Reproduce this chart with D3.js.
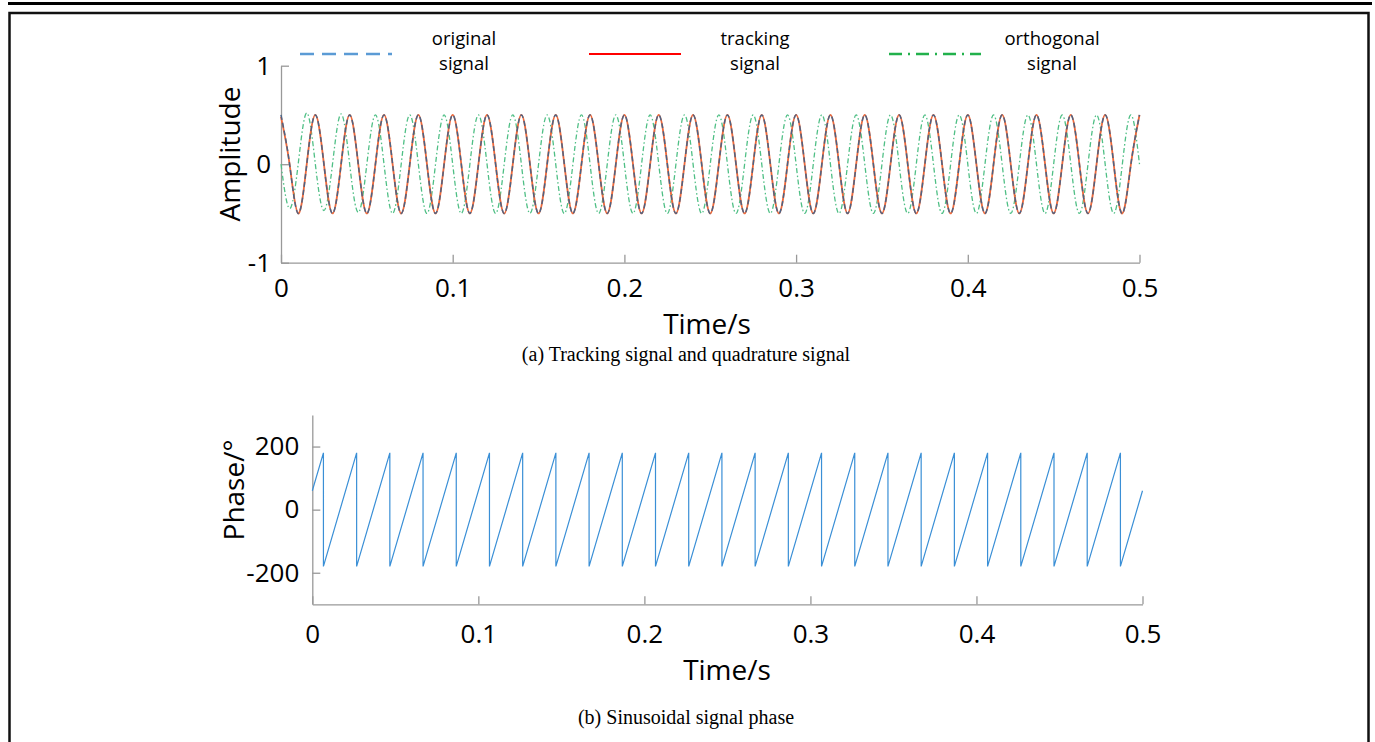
<!DOCTYPE html>
<html>
<head>
<meta charset="utf-8">
<script src="https://cdn.jsdelivr.net/npm/d3@7"></script>
<style>
    body { margin: 0; background: #fff; }
    svg { display: block; }
    .tick text { font-family: "Open Sans", sans-serif; font-size: 26px; fill: #000; }
    .axis path, .axis line { stroke: #999; stroke-width: 1.3; }
    .title { font-family: "Open Sans", sans-serif; font-size: 28px; fill: #000; }
    .legend-text { font-family: "Open Sans", sans-serif; font-size: 18.5px; fill: #000; }
    .caption { font-family: "Liberation Serif", "Times New Roman", serif; font-size: 20px; fill: #000; }
</style>
</head>
<body>
<div id="chart"></div>
<script>
// axis ticks
const timeTicks = [0, 0.1, 0.2, 0.3, 0.4, 0.5];
const ampTicks = [-1, 0, 1];
const phaseTicks = [-200, 0, 200];

// samples every quarter period (50 Hz signal)
const sampleTimes = [
    0, 0.005, 0.01, 0.015, 0.02, 0.025, 0.03, 0.035, 0.04, 0.045,
    0.05, 0.055, 0.06, 0.065, 0.07, 0.075, 0.08, 0.085, 0.09, 0.095,
    0.1, 0.105, 0.11, 0.115, 0.12, 0.125, 0.13, 0.135, 0.14, 0.145,
    0.15, 0.155, 0.16, 0.165, 0.17, 0.175, 0.18, 0.185, 0.19, 0.195,
    0.2, 0.205, 0.21, 0.215, 0.22, 0.225, 0.23, 0.235, 0.24, 0.245,
    0.25, 0.255, 0.26, 0.265, 0.27, 0.275, 0.28, 0.285, 0.29, 0.295,
    0.3, 0.305, 0.31, 0.315, 0.32, 0.325, 0.33, 0.335, 0.34, 0.345,
    0.35, 0.355, 0.36, 0.365, 0.37, 0.375, 0.38, 0.385, 0.39, 0.395,
    0.4, 0.405, 0.41, 0.415, 0.42, 0.425, 0.43, 0.435, 0.44, 0.445,
    0.45, 0.455, 0.46, 0.465, 0.47, 0.475, 0.48, 0.485, 0.49, 0.495,
    0.5
];

const originalSignal = [
    0.5, 0, -0.5, 0, 0.5, 0, -0.5, 0, 0.5, 0, -0.5, 0, 0.5, 0, -0.5, 0, 0.5, 0, -0.5, 0,
    0.5, 0, -0.5, 0, 0.5, 0, -0.5, 0, 0.5, 0, -0.5, 0, 0.5, 0, -0.5, 0, 0.5, 0, -0.5, 0,
    0.5, 0, -0.5, 0, 0.5, 0, -0.5, 0, 0.5, 0, -0.5, 0, 0.5, 0, -0.5, 0, 0.5, 0, -0.5, 0,
    0.5, 0, -0.5, 0, 0.5, 0, -0.5, 0, 0.5, 0, -0.5, 0, 0.5, 0, -0.5, 0, 0.5, 0, -0.5, 0,
    0.5, 0, -0.5, 0, 0.5, 0, -0.5, 0, 0.5, 0, -0.5, 0, 0.5, 0, -0.5, 0, 0.5, 0, -0.5, 0,
    0.5
];

const trackingSignal = [
    0.48, 0, -0.5, 0, 0.5, 0, -0.5, 0, 0.5, 0, -0.5, 0, 0.5, 0, -0.5, 0, 0.5, 0, -0.5, 0,
    0.5, 0, -0.5, 0, 0.5, 0, -0.5, 0, 0.5, 0, -0.5, 0, 0.5, 0, -0.5, 0, 0.5, 0, -0.5, 0,
    0.5, 0, -0.5, 0, 0.5, 0, -0.5, 0, 0.5, 0, -0.5, 0, 0.5, 0, -0.5, 0, 0.5, 0, -0.5, 0,
    0.5, 0, -0.5, 0, 0.5, 0, -0.5, 0, 0.5, 0, -0.5, 0, 0.5, 0, -0.5, 0, 0.5, 0, -0.5, 0,
    0.5, 0, -0.5, 0, 0.5, 0, -0.5, 0, 0.5, 0, -0.5, 0, 0.5, 0, -0.5, 0, 0.5, 0, -0.5, 0,
    0.5
];

const orthogonalSignal = [
    0, -0.45, 0, 0.52, 0, -0.47, 0, 0.51, 0, -0.49, 0, 0.5, 0, -0.5, 0, 0.5, 0, -0.5, 0, 0.5,
    0, -0.5, 0, 0.5, 0, -0.5, 0, 0.5, 0, -0.5, 0, 0.5, 0, -0.5, 0, 0.5, 0, -0.5, 0, 0.5,
    0, -0.5, 0, 0.5, 0, -0.5, 0, 0.5, 0, -0.5, 0, 0.5, 0, -0.5, 0, 0.5, 0, -0.5, 0, 0.5,
    0, -0.5, 0, 0.5, 0, -0.5, 0, 0.5, 0, -0.5, 0, 0.5, 0, -0.5, 0, 0.5, 0, -0.5, 0, 0.5,
    0, -0.5, 0, 0.5, 0, -0.5, 0, 0.5, 0, -0.5, 0, 0.5, 0, -0.5, 0, 0.5, 0, -0.5, 0, 0.5,
    0
];

// phase sawtooth: corner points (time, degrees)
const phaseTimes = [
    0, 0.0067, 0.0067, 0.0267, 0.0267, 0.0467, 0.0467, 0.0667, 0.0667, 0.0867, 0.0867,
    0.1067, 0.1067, 0.1267, 0.1267, 0.1467, 0.1467, 0.1667, 0.1667, 0.1867, 0.1867,
    0.2067, 0.2067, 0.2267, 0.2267, 0.2467, 0.2467, 0.2667, 0.2667, 0.2867, 0.2867,
    0.3067, 0.3067, 0.3267, 0.3267, 0.3467, 0.3467, 0.3667, 0.3667, 0.3867, 0.3867,
    0.4067, 0.4067, 0.4267, 0.4267, 0.4467, 0.4467, 0.4667, 0.4667, 0.4867, 0.4867,
    0.5
];
const phaseValues = [
    60, 180, -180, 180, -180, 180, -180, 180, -180, 180, -180,
    180, -180, 180, -180, 180, -180, 180, -180, 180, -180,
    180, -180, 180, -180, 180, -180, 180, -180, 180, -180,
    180, -180, 180, -180, 180, -180, 180, -180, 180, -180,
    180, -180, 180, -180, 180, -180, 180, -180, 180, -180,
    60
];

const legendItems = [
    { label: ["original", "signal"], color: "#5b9bd5", dash: "14,8", width: 2.5 },
    { label: ["tracking", "signal"], color: "#ff0000", dash: null, width: 2 },
    { label: ["orthogonal", "signal"], color: "#22b14c", dash: "13,6,2,6", width: 2.5 }
];

const width = 1375, height = 742;
const plain = (d) => String(d);

const svg = d3.select("#chart").append("svg")
    .attr("width", width)
    .attr("height", height);

// page frame
svg.append("rect")
    .attr("x", 8).attr("y", 2).attr("width", 1364).attr("height", 3)
    .attr("fill", "#000");
svg.append("rect")
    .attr("x", 9.5).attr("y", 13).attr("width", 1359).attr("height", 800)
    .attr("fill", "none").attr("stroke", "#111").attr("stroke-width", 2.5);

// ---------- (a) amplitude plot ----------
let xA = d3.scaleLinear().domain([0, 0.5]).range([281, 1139.5]),
    yA = d3.scaleLinear().domain([-1, 1]).range([262.7, 65.7]);

svg.append("g")
    .attr("class", "axis")
    .attr("transform", "translate(0," + yA(-1) + ")")
    .call(d3.axisBottom(xA).tickValues(timeTicks).tickFormat(plain).tickSize(-8).tickSizeOuter(0).tickPadding(16));

svg.append("g")
    .attr("class", "axis")
    .attr("transform", "translate(" + xA(0) + ",0)")
    .call(d3.axisLeft(yA).tickValues(ampTicks).tickFormat(plain).tickSize(-8).tickSizeOuter(0).tickPadding(10));

let lineA = (vals) => d3.line()
    .x((d, i) => xA(sampleTimes[i]))
    .y((d) => yA(d))
    .curve(d3.curveNatural)(vals);

svg.append("path")
    .attr("d", lineA(orthogonalSignal))
    .attr("fill", "none")
    .attr("stroke", "#4fbf85")
    .attr("stroke-width", 1.3)
    .attr("stroke-dasharray", "5,2.5,1.5,2.5");

svg.append("path")
    .attr("d", lineA(trackingSignal))
    .attr("fill", "none")
    .attr("stroke", "#ef6a3c")
    .attr("stroke-width", 1.8);

svg.append("path")
    .attr("d", lineA(originalSignal))
    .attr("fill", "none")
    .attr("stroke", "#4d6384")
    .attr("stroke-width", 1.5)
    .attr("stroke-dasharray", "5,3");

svg.append("text")
    .attr("class", "title")
    .attr("transform", "translate(240,154) rotate(-90)")
    .attr("text-anchor", "middle")
    .text("Amplitude");

svg.append("text")
    .attr("class", "title")
    .attr("x", 707).attr("y", 334)
    .attr("text-anchor", "middle")
    .text("Time/s");

// legend
let legendX = [300, 589, 889],
    legendTextX = [464, 755, 1052];

legendItems.forEach((item, i) => {
    svg.append("line")
        .attr("x1", legendX[i]).attr("x2", legendX[i] + 92)
        .attr("y1", 54).attr("y2", 54)
        .attr("stroke", item.color)
        .attr("stroke-width", item.width)
        .attr("stroke-dasharray", item.dash);
    item.label.forEach((t, j) => {
        svg.append("text")
            .attr("class", "legend-text")
            .attr("x", legendTextX[i])
            .attr("y", 45 + j * 25)
            .attr("text-anchor", "middle")
            .text(t);
    });
});

svg.append("text")
    .attr("class", "caption")
    .attr("x", 686).attr("y", 361)
    .attr("text-anchor", "middle")
    .text("(a) Tracking signal and quadrature signal");

// ---------- (b) phase plot ----------
let xB = d3.scaleLinear().domain([0, 0.5]).range([312.3, 1142.5]),
    yB = d3.scaleLinear().domain([-300, 300]).range([604.3, 415]);

svg.append("g")
    .attr("class", "axis")
    .attr("transform", "translate(0," + yB(-300) + ")")
    .call(d3.axisBottom(xB).tickValues(timeTicks).tickFormat(plain).tickSize(-8).tickSizeOuter(0).tickPadding(20));

svg.append("g")
    .attr("class", "axis")
    .attr("transform", "translate(" + xB(0) + ",0)")
    .call(d3.axisLeft(yB).tickValues(phaseTicks).tickFormat(plain).tickSize(-8).tickSizeOuter(0).tickPadding(13));

svg.append("path")
    .attr("d", d3.line()
        .x((d, i) => xB(phaseTimes[i]))
        .y((d) => yB(d))(phaseValues))
    .attr("fill", "none")
    .attr("stroke", "#3a8fd6")
    .attr("stroke-width", 1.2);

svg.append("text")
    .attr("class", "title")
    .attr("transform", "translate(244,490) rotate(-90)")
    .attr("text-anchor", "middle")
    .text("Phase/°");

svg.append("text")
    .attr("class", "title")
    .attr("x", 727).attr("y", 680)
    .attr("text-anchor", "middle")
    .text("Time/s");

svg.append("text")
    .attr("class", "caption")
    .attr("x", 686).attr("y", 724)
    .attr("text-anchor", "middle")
    .text("(b) Sinusoidal signal phase");
</script>
</body>
</html>
